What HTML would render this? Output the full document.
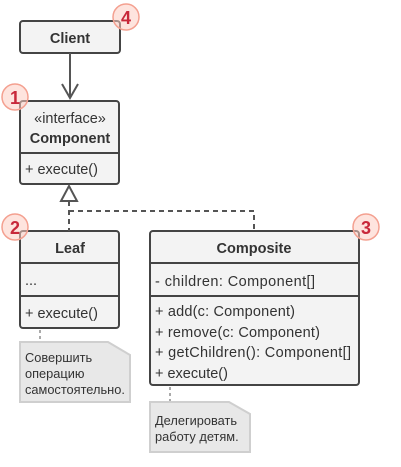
<!DOCTYPE html>
<html><head><meta charset="utf-8"><style>
html,body{margin:0;padding:0;background:#fff;width:401px;height:467px;overflow:hidden}
svg text{font-family:"Liberation Sans","DejaVu Sans",sans-serif;font-size:14.5px;fill:#333}
</style></head><body>
<svg width="401" height="467" viewBox="0 0 401 467" xmlns="http://www.w3.org/2000/svg">
<g stroke="#444" stroke-width="2" fill="#f3f3f3">
<rect x="20" y="21" width="100" height="32" rx="3"/>
<rect x="20" y="101" width="99" height="83" rx="3"/>
<rect x="20" y="231" width="99" height="97" rx="3"/>
<rect x="150" y="231" width="209" height="154" rx="3"/>
</g>
<g stroke="#444" stroke-width="2">
<line x1="20" y1="153" x2="119" y2="153"/>
<line x1="20" y1="263" x2="119" y2="263"/>
<line x1="20" y1="296" x2="119" y2="296"/>
<line x1="150" y1="263" x2="359" y2="263"/>
<line x1="150" y1="296" x2="359" y2="296"/>
</g>
<g stroke="#555" stroke-width="2" fill="none">
<line x1="70" y1="53" x2="70" y2="98"/>
<polyline points="62,84 70,98 78,84"/>
<polygon points="69,186 61,201 77,201" fill="#fff"/>
<path d="M69 201 V231 M69 211 H254 V231" stroke-dasharray="5,4"/>
</g>
<g stroke="#aaa" stroke-width="2" stroke-dasharray="3,3">
<line x1="40" y1="330" x2="40" y2="341"/>
<line x1="170" y1="387" x2="170" y2="402"/>
</g>
<g fill="#e8e8e8" stroke="#cfcfcf" stroke-width="2">
<path d="M20 342 H108 L130 355 V402 H20 Z"/>
<path d="M150 402 H229 L250 414 V452 H150 Z"/>
</g>
<text x="70" y="43" text-anchor="middle" font-weight="bold">Client</text>
<text x="70" y="123" text-anchor="middle">«interface»</text>
<text x="70" y="143" text-anchor="middle" font-weight="bold">Component</text>
<text x="25" y="174">+ execute()</text>
<text x="70" y="253" text-anchor="middle" font-weight="bold">Leaf</text>
<text x="25" y="285">...</text>
<text x="25" y="318">+ execute()</text>
<text x="254" y="253" text-anchor="middle" font-weight="bold">Composite</text>
<text x="155" y="286" textLength="160">- children: Component[]</text>
<text x="155" y="316" textLength="140">+ add(c: Component)</text>
<text x="155" y="337" textLength="165">+ remove(c: Component)</text>
<text x="155" y="357" textLength="196">+ getChildren(): Component[]</text>
<text x="155" y="378">+ execute()</text>
<text x="25" y="362" style="font-size:12.8px">Совершить</text>
<text x="25" y="378" style="font-size:12.8px">операцию</text>
<text x="25" y="394" style="font-size:12.8px">самостоятельно.</text>
<text x="155" y="425" style="font-size:12.8px">Делегировать</text>
<text x="155" y="441" style="font-size:12.8px">работу детям.</text>
<g fill="rgba(253,205,195,0.55)" stroke="#f4a090" stroke-width="1.5">
<circle cx="126" cy="17" r="13"/>
<circle cx="15" cy="97" r="13"/>
<circle cx="15" cy="227" r="13"/>
<circle cx="366" cy="227" r="13"/>
</g>
<text x="126" y="24" text-anchor="middle" style="fill:#c8283a;font-size:18px;font-weight:bold">4</text>
<text x="15" y="104" text-anchor="middle" style="fill:#c8283a;font-size:18px;font-weight:bold">1</text>
<text x="15" y="234" text-anchor="middle" style="fill:#c8283a;font-size:18px;font-weight:bold">2</text>
<text x="366" y="234" text-anchor="middle" style="fill:#c8283a;font-size:18px;font-weight:bold">3</text>
</svg>
</body></html>
